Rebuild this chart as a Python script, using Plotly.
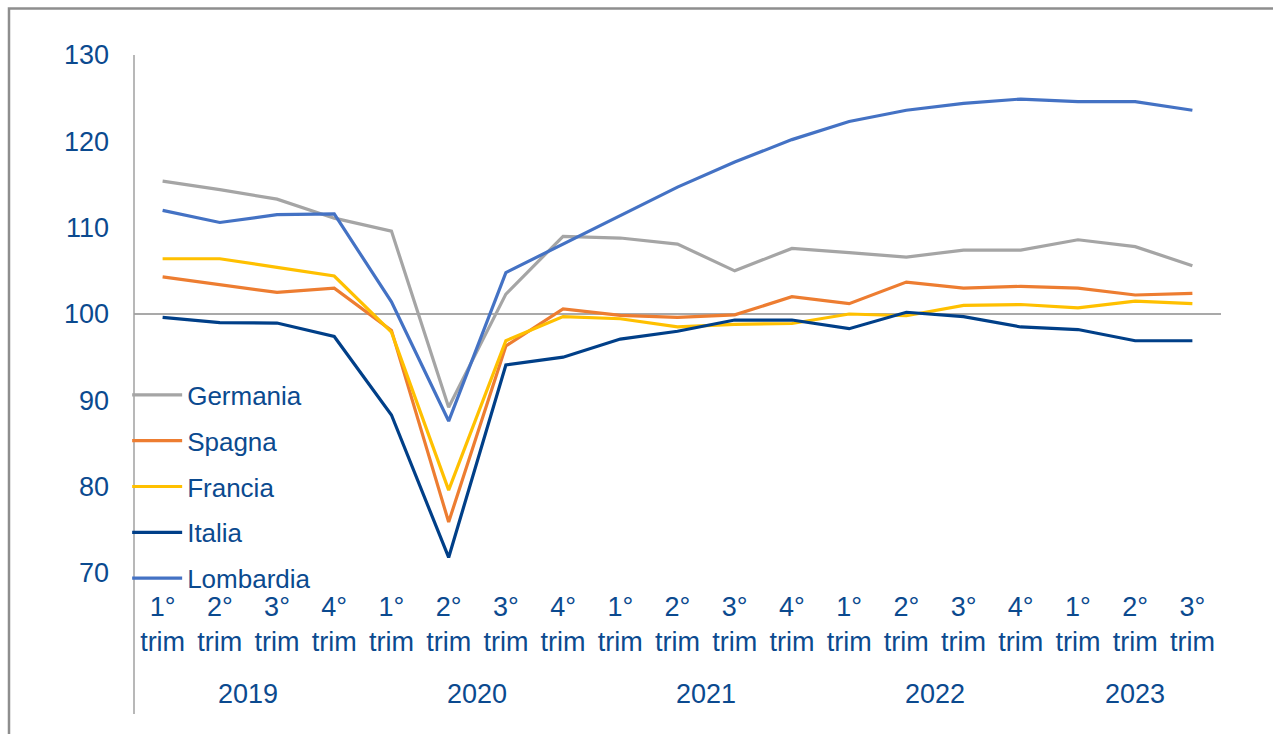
import plotly.graph_objects as go

categories = [f"{q}-{y}" for y in (2019, 2020, 2021, 2022, 2023) for q in (1, 2, 3, 4)][:19]
quarter_labels = ["1°<br>trim", "2°<br>trim", "3°<br>trim", "4°<br>trim"] * 4 + ["1°<br>trim", "2°<br>trim", "3°<br>trim"]
years = ["2019", "2020", "2021", "2022", "2023"]

germania = [115.4, 114.4, 113.3, 111.1, 109.6, 89.2, 102.3, 109.0, 108.8, 108.1, 105.0, 107.6, 107.1, 106.6, 107.4, 107.4, 108.6, 107.8, 105.6]
spagna = [104.3, 103.4, 102.5, 103.0, 98.1, 75.9, 96.3, 100.6, 99.85, 99.6, 99.9, 102.0, 101.2, 103.7, 103.0, 103.2, 103.0, 102.2, 102.4]
francia = [106.4, 106.4, 105.4, 104.4, 97.9, 79.6, 96.9, 99.7, 99.45, 98.5, 98.8, 98.9, 100.0, 99.8, 101.0, 101.1, 100.7, 101.5, 101.2]
italia = [99.6, 99.0, 98.95, 97.4, 88.3, 71.8, 94.1, 95.0, 97.1, 98.0, 99.3, 99.3, 98.3, 100.2, 99.7, 98.5, 98.2, 96.9, 96.9]
lombardia = [112.0, 110.6, 111.5, 111.6, 101.4, 87.6, 104.8, 108.1, 111.3, 114.7, 117.6, 120.2, 122.3, 123.6, 124.4, 124.9, 124.6, 124.6, 123.6]

series = [
    ("Germania", germania, "#A5A5A5"),
    ("Spagna", spagna, "#ED7D31"),
    ("Francia", francia, "#FFC000"),
    ("Italia", italia, "#003F88"),
    ("Lombardia", lombardia, "#4472C4"),
]

TEXT = "#0B4A8F"
FONT = "Liberation Sans, Arial, sans-serif"

fig = go.Figure()
for name, vals, col in series:
    fig.add_trace(go.Scatter(
        x=categories, y=vals, name=name, mode="lines",
        line=dict(color=col, width=3.2), legendgroup=name,
    ))

fig.add_hline(y=100, line=dict(color="#8C8C8C", width=1.5), layer="below")

# vertical axis line extending below the plot
fig.add_shape(type="line", xref="paper", yref="paper", x0=0, x1=0, y0=-0.272, y1=1,
              line=dict(color="#A0A0A0", width=1.5))
# outer frame
fig.add_shape(type="rect", xref="paper", yref="paper", x0=-0.115, x1=1.2, y0=-0.5, y1=1.09,
              line=dict(color="#8E8E8E", width=2.5), layer="below")

# year labels centred under their quarters
groups = {}
for i, c in enumerate(categories):
    groups.setdefault(c.split("-")[1], []).append(i)
for y in years:
    idx = groups[y]
    fig.add_annotation(x=(idx[0] + idx[-1]) / 2, y=-0.2336, xref="x", yref="paper",
                       text=y, showarrow=False, yanchor="middle",
                       font=dict(size=27, color=TEXT, family=FONT))

fig.update_layout(
    width=1273, height=734,
    margin=dict(l=134, r=52, t=55, b=161),
    paper_bgcolor="white", plot_bgcolor="white",
    font=dict(family=FONT, color=TEXT, size=27),
    showlegend=True,
    legend=dict(x=-0.0063, y=0.389, xanchor="left", yanchor="top",
                bgcolor="rgba(0,0,0,0)", font=dict(size=26, color=TEXT, family=FONT),
                tracegroupgap=9, itemwidth=50),
    xaxis=dict(type="category", range=[-0.5, 18.5], tickmode="array",
               tickvals=categories, ticktext=quarter_labels, showgrid=False,
               showline=False, zeroline=False, ticks="", ticklabelstandoff=15,
               tickfont=dict(size=27, color=TEXT, family=FONT)),
    yaxis=dict(range=[70, 130], dtick=10, showgrid=False, showline=False,
               zeroline=False, ticks="", ticklabelstandoff=24,
               tickfont=dict(size=27, color=TEXT, family=FONT)),
)

fig.write_html("out.html", config={"displayModeBar": False},
               post_script="document.body.style.margin='0';")
